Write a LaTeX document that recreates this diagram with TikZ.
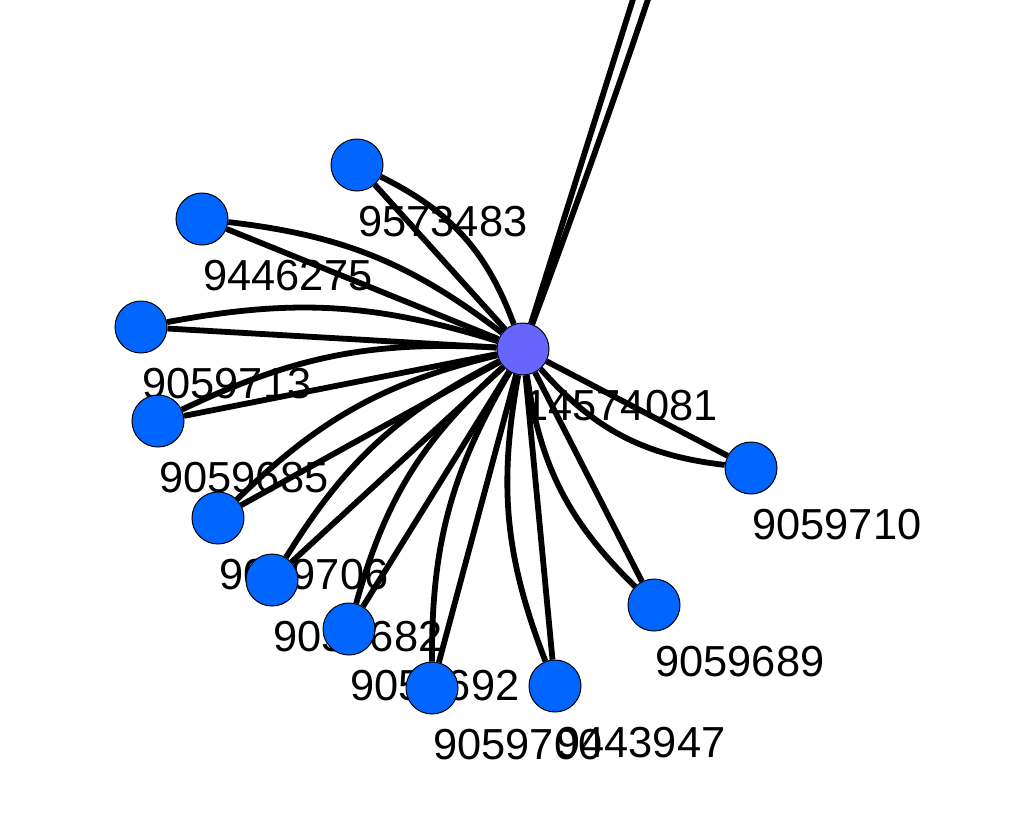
\documentclass[tikz,border=0pt]{standalone}
\usepackage{fontspec}
\setmainfont{Liberation Sans}
\usetikzlibrary{positioning}
\definecolor{cleaf}{HTML}{0066FF}
\definecolor{chub}{HTML}{6666FF}
\pgfdeclarelayer{lbl}
\pgfdeclarelayer{edge}
\pgfsetlayers{lbl,edge,main}
\tikzset{
  vert/.style={circle, draw=black, line width=0.5pt, minimum size=26pt, inner sep=0pt},
  leaf/.style={vert, fill=cleaf},
  hub/.style={vert, fill=chub},
  tag/.style={anchor=west, inner sep=0pt, font=\fontsize{21.7}{24}\selectfont},
  link/.style={line width=2.9pt, black}
}

\begin{document}
\begin{tikzpicture}[x=0.5pt, y=-0.5pt]
  \useasboundingbox (0,0) rectangle (1029,826);
  \clip (0,0) rectangle (1029,826);
  % Hub and far neighbour
  \node[hub] (c) at (523,349) {};
  \coordinate (far) at (823,-605);
  \begin{pgfonlayer}{lbl}
    \node[tag] (tc) at (524,406) {14574081};
  \end{pgfonlayer}
  % Leaves: name/x/y/bend
  \foreach \n/\x/\y/\b in {9573483/357/165/21.7, 9446275/202/219/15.4,
      9059713/141/327/13.9, 9059685/158/421/14.3, 9059706/218/518/15.3,
      9059682/272/580/15.6, 9059692/349/629/16.2, 9059700/432/688/15.2,
      9443947/555/686/15.7, 9059689/654/605/18.6, 9059710/751/468/20.9}{
    \node[leaf] (n\n) at (\x,\y) {};
    \begin{pgfonlayer}{lbl}
      \node[tag] (t\n) at (\x+1,\y+57) {\n};
    \end{pgfonlayer}
    \begin{pgfonlayer}{edge}
      \draw[link] (n\n) -- (c);
      \draw[link] (n\n) to[bend left=\b] (c);
    \end{pgfonlayer}
  }
  % Two links to the node off the top
  \begin{pgfonlayer}{edge}
    \draw[link] (c) -- (far);
    \draw[link] (far) to[bend left=3] (c);
  \end{pgfonlayer}
\end{tikzpicture}
\end{document}
